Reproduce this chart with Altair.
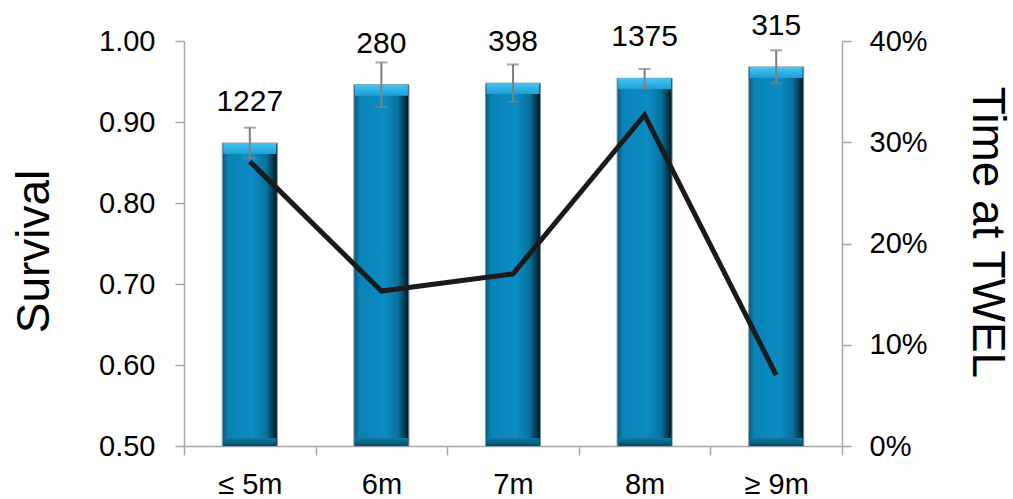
import altair as alt
import pandas as pd

# Mesh size classes, survival estimates (with error), sample counts and share of time at TWEL
sizes = ["≤ 5m", "6m", "7m", "8m", "≥ 9m"]
survival = [0.874, 0.946, 0.948, 0.954, 0.968]
survival_err = [0.019, 0.0275, 0.023, 0.0115, 0.0205]
counts = [1227, 280, 398, 1375, 315]
time_at_twel = [0.281, 0.153, 0.170, 0.327, 0.070]

df = pd.DataFrame({
    "size": sizes,
    "survival": survival,
    "lo": [s - e for s, e in zip(survival, survival_err)],
    "hi": [s + e for s, e in zip(survival, survival_err)],
    "n": [str(c) for c in counts],
    "twel": time_at_twel,
    "base": [0.5] * len(sizes),
})

FONT = "Liberation Sans"
AXIS_GRAY = "#A6A6A6"

x_axis = alt.Axis(
    title=None, labelAngle=0, labelFontSize=29, labelFont=FONT, labelColor="black",
    tickBand="extent", tickSize=9, labelPadding=15,
    domainColor=AXIS_GRAY, tickColor=AXIS_GRAY, domainWidth=1.5, tickWidth=1.5,
)
x_scale = alt.Scale(paddingInner=0, paddingOuter=0)


def xe():
    return alt.X("size:N", sort=sizes, scale=x_scale, axis=x_axis)


y_scale = alt.Scale(domain=[0.5, 1.0], nice=False, zero=False)
y_axis = alt.Axis(
    title="Survival", values=[0.5, 0.6, 0.7, 0.8, 0.9, 1.0], format=".2f",
    labelFontSize=29, labelFont=FONT, labelColor="black", labelPadding=20, tickSize=9,
    titleFontSize=46, titleFont=FONT, titleFontWeight="normal", titleColor="black",
    titleAngle=-90, titleX=-150, titleY=210, titleAlign="center", titleBaseline="middle",
    domainColor=AXIS_GRAY, tickColor=AXIS_GRAY, domainWidth=1.5, tickWidth=1.5, grid=False,
)


def ye(field):
    return alt.Y(field, scale=y_scale, axis=y_axis)


body_fill = alt.Gradient(
    gradient="linear", x1=0, x2=1, y1=0, y2=0,
    stops=[
        alt.GradientStop(color="#0A5878", offset=0),
        alt.GradientStop(color="#0A82B4", offset=0.1),
        alt.GradientStop(color="#0B8CC4", offset=0.55),
        alt.GradientStop(color="#08729E", offset=0.8),
        alt.GradientStop(color="#03141C", offset=1),
    ],
)
top_fill = alt.Gradient(
    gradient="linear", x1=0, x2=0, y1=0, y2=1,
    stops=[
        alt.GradientStop(color="#45C4F2", offset=0),
        alt.GradientStop(color="#1C9FD6", offset=1),
    ],
)
bottom_fill = alt.Gradient(
    gradient="linear", x1=0, x2=0, y1=0, y2=1,
    stops=[
        alt.GradientStop(color="#0A7AA8", offset=0),
        alt.GradientStop(color="#064A66", offset=1),
    ],
)

bars = alt.Chart(df).mark_bar(size=55, color=body_fill, stroke="#7E97A3", strokeWidth=1).encode(
    x=xe(), y=ye("survival:Q"), y2="base:Q",
)
bevel_top = alt.Chart(df).mark_bar(size=53, color=top_fill, y2Offset=11).encode(
    x=xe(), y=ye("survival:Q"), y2="survival:Q",
)
bevel_bottom = alt.Chart(df).mark_bar(size=53, color=bottom_fill, yOffset=-8).encode(
    x=xe(), y=ye("base:Q"), y2="base:Q",
)
err_rule = alt.Chart(df).mark_rule(color="#7F7F7F", strokeWidth=2).encode(
    x=xe(), y=ye("lo:Q"), y2="hi:Q",
)
err_cap_hi = alt.Chart(df).mark_tick(color="#7F7F7F", size=12, thickness=2, orient="horizontal").encode(
    x=xe(), y=ye("hi:Q"),
)
err_cap_lo = alt.Chart(df).mark_tick(color="#7F7F7F", size=12, thickness=2, orient="horizontal").encode(
    x=xe(), y=ye("lo:Q"),
)
labels = alt.Chart(df).mark_text(fontSize=30, font=FONT, color="black", dy=-41, baseline="middle").encode(
    x=xe(), y=ye("survival:Q"), text="n:N",
)

left = alt.layer(bars, bevel_top, bevel_bottom, err_rule, err_cap_hi, err_cap_lo, labels)

line = alt.Chart(df).mark_line(color="#1A1A1A", strokeWidth=5).encode(
    x=xe(),
    y=alt.Y(
        "twel:Q",
        scale=alt.Scale(domain=[0, 0.4], nice=False),
        axis=alt.Axis(
            title="Time at TWEL", orient="right", values=[0, 0.1, 0.2, 0.3, 0.4], format=".0%",
            labelFontSize=29, labelFont=FONT, labelColor="black", labelPadding=18, tickSize=9,
            titleFontSize=46, titleFont=FONT, titleFontWeight="normal", titleColor="black",
            titleAngle=90, titleX=144, titleY=191, titleAlign="center", titleBaseline="middle",
            domainColor=AXIS_GRAY, tickColor=AXIS_GRAY, domainWidth=1.5, tickWidth=1.5, grid=False,
        ),
    ),
)

chart = (
    alt.layer(left, line)
    .resolve_scale(y="independent")
    .properties(
        width=658,
        height=405,
        autosize=alt.AutoSizeParams(type="none"),
        padding={"left": 184, "top": 41, "right": 171, "bottom": 53},
        background="white",
    )
    .configure_view(stroke=None)
)

chart.save("out.html", embed_options={"renderer": "svg", "actions": False})
